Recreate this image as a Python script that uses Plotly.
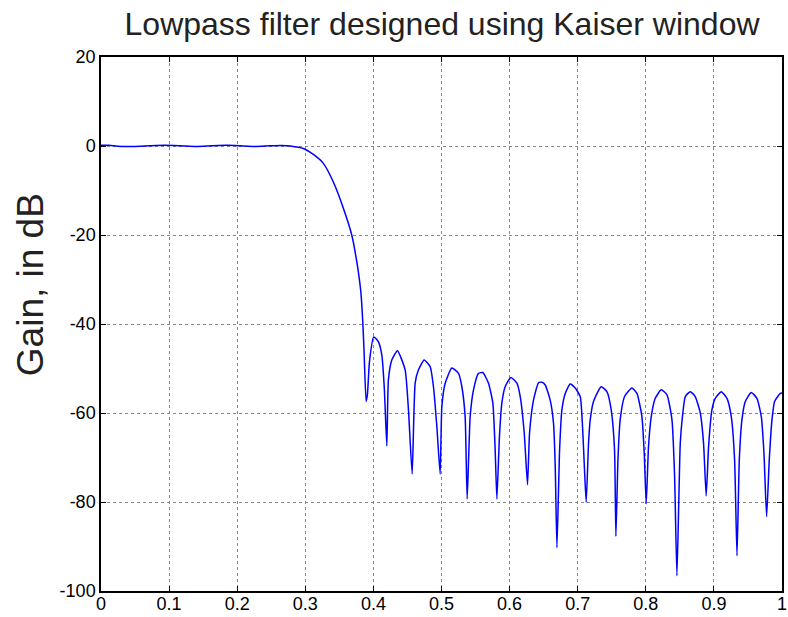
import plotly.graph_objects as go

# Frequency response
freq = [0.0, 0.012, 0.024, 0.048, 0.072, 0.094, 0.116, 0.14, 0.163, 0.185, 0.204, 0.226, 0.248, 0.265, 0.2777,
        0.2972, 0.3118, 0.3265, 0.3412, 0.3559, 0.3682, 0.3756, 0.3815, 0.3844, 0.3863, 0.3893,
        0.3912, 0.3942, 0.4005, 0.4074, 0.4124, 0.4160, 0.4197,
        0.422, 0.427, 0.4353, 0.4466, 0.4515, 0.4569,
        0.4613, 0.4662, 0.4745, 0.4834, 0.4882, 0.4932, 0.498,
        0.5005, 0.5054, 0.5152, 0.525, 0.5299, 0.5347, 0.5377,
        0.5421, 0.547, 0.5543, 0.5607, 0.569, 0.5754, 0.5788, 0.5813,
        0.5851, 0.5886, 0.5935, 0.6019, 0.6107, 0.6156, 0.6215, 0.6263,
        0.6293, 0.6351, 0.6425, 0.6474, 0.6523, 0.6596, 0.6645, 0.667, 0.6695,
        0.6734, 0.6768, 0.6817, 0.689, 0.6964, 0.7037, 0.7071, 0.71, 0.7125,
        0.7159, 0.7184, 0.7232, 0.7345, 0.7429, 0.7492, 0.7541, 0.7561,
        0.7591, 0.7624, 0.7688, 0.7796, 0.787, 0.7943, 0.7977, 0.8006,
        0.804, 0.808, 0.8139, 0.8227, 0.8311, 0.8384, 0.8423, 0.8457,
        0.8506, 0.8541, 0.858, 0.8653, 0.8726, 0.88, 0.8848, 0.8887,
        0.8922, 0.8971, 0.902, 0.9108, 0.9192, 0.9255, 0.9304, 0.9339,
        0.9373, 0.9412, 0.9461, 0.9549, 0.9632, 0.9696, 0.9735, 0.9774,
        0.9813, 0.9853, 0.9891, 0.9975, 1.0]
gain_db = [0.15, 0.15, -0.05, -0.1, 0.05, 0.15, 0.05, -0.1, 0.05, 0.15, 0.05, -0.1, 0.05, 0.12, 0.0,
           -0.56, -1.9, -3.9, -8.1, -14.0, -20.0, -26.0, -32.7, -39.5, -46.2, -57.4,
           -55.9, -48.5, -42.9, -44.0, -47.0, -54.4, -67.4,
           -52.6, -48.1, -46.0, -50.3, -59.3, -73.7,
           -53.3, -50.3, -48.1, -49.6, -54.1, -63.1, -73.7,
           -58.6, -53.3, -49.9, -51.1, -54.1, -60.8, -79.3,
           -60.8, -54.8, -51.1, -50.9, -53.3, -57.8, -68.3, -79.3,
           -65.3, -57.8, -54.1, -52.0, -53.3, -56.3, -64.5, -76.1,
           -64.5, -57.1, -53.2, -53.1, -53.7, -57.1, -62.3, -72.0, -90.3,
           -68.3, -59.3, -55.6, -53.5, -54.4, -56.3, -63.1, -72.8, -80.1,
           -66.8, -61.5, -57.4, -54.1, -55.2, -59.3, -68.3, -87.7,
           -70.5, -61.5, -56.3, -54.4, -55.6, -60.8, -69.0, -80.4,
           -67.5, -60.8, -56.7, -54.8, -55.9, -61.5, -74.3, -96.6,
           -66.8, -60.4, -56.3, -55.2, -56.3, -60.0, -66.8, -78.6,
           -67.5, -59.3, -56.7, -55.2, -56.7, -60.8, -70.5, -92.1,
           -70.5, -61.5, -57.4, -55.4, -56.7, -60.8, -69.0, -83.3,
           -70.5, -61.5, -57.4, -55.6, -55.5]

x_ticks = [0, 0.1, 0.2, 0.3, 0.4, 0.5, 0.6, 0.7, 0.8, 0.9, 1]
x_labels = ["0", "0.1", "0.2", "0.3", "0.4", "0.5", "0.6", "0.7", "0.8", "0.9", "1"]
y_ticks = [-100, -80, -60, -40, -20, 0, 20]
y_labels = ["-100", "-80", "-60", "-40", "-20", "0", "20"]
title_text = "Lowpass filter designed using Kaiser window"
ylabel_text = "Gain, in dB"

fig = go.Figure()
fig.add_trace(go.Scatter(x=freq, y=gain_db, mode="lines",
                         line=dict(color="#0000FF", width=1.5, shape="spline", smoothing=0.5),
                         showlegend=False))

axis_common = dict(showline=True, linecolor="black", linewidth=1.5, mirror="ticks",
                   ticks="inside", ticklen=5, tickcolor="black", tickwidth=1,
                   showgrid=True, gridcolor="#888888", griddash="dot", gridwidth=1,
                   zeroline=False, automargin=False,
                   tickfont=dict(family="Liberation Sans, Arial", size=18, color="black"))

fig.update_layout(
    width=788, height=617,
    margin=dict(l=101, r=6, t=57, b=26),
    paper_bgcolor="white", plot_bgcolor="white",
    title=dict(text=title_text, x=0.561, xanchor="center",
               y=0.961, yanchor="middle",
               font=dict(family="Liberation Sans, Arial", size=32, color="#222222")),
    xaxis=dict(range=[0, 1], tickvals=x_ticks, ticktext=x_labels, ticklabelstandoff=-4,
               **axis_common),
    yaxis=dict(range=[-100, 20], tickvals=y_ticks, ticktext=y_labels, **axis_common),
)
fig.add_annotation(text=ylabel_text, xref="paper", yref="paper", x=-0.104, y=0.573,
                   xanchor="center", yanchor="middle", textangle=-90, showarrow=False,
                   font=dict(family="Liberation Sans, Arial", size=37, color="#222222"))

fig.write_html("out.html")
